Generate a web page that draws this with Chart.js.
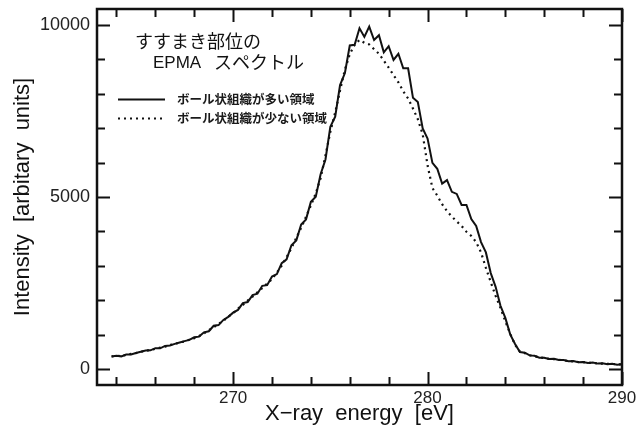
<!DOCTYPE html>
<html>
<head>
<meta charset="utf-8">
<script src="https://cdn.jsdelivr.net/npm/chart.js@4/dist/chart.umd.min.js"></script>
<style>
  html, body { margin: 0; padding: 0; background: #fff; }
  #wrap { width: 637px; height: 431px; position: relative; }
</style>
</head>
<body>
<div id="wrap"><canvas id="c"></canvas></div>
<script>
// ---- data ----
const energies = [
  263.75,264.00,264.25,264.50,264.75,265.00,265.25,265.50,265.75,266.00,
  266.25,266.50,266.75,267.00,267.25,267.50,267.75,268.00,268.25,268.50,
  268.75,269.00,269.25,269.50,269.75,270.00,270.25,270.50,270.75,271.00,
  271.25,271.50,271.75,272.00,272.25,272.50,272.75,273.00,273.25,273.50,
  273.75,274.00,274.25,274.50,274.75,275.00,275.25,275.50,275.75,276.00,
  276.25,276.50,276.75,277.00,277.25,277.50,277.75,278.00,278.25,278.50,
  278.75,279.00,279.25,279.50,279.75,280.00,280.25,280.50,280.75,281.00,
  281.25,281.50,281.75,282.00,282.25,282.50,282.75,283.00,283.25,283.50,
  283.75,284.00,284.25,284.50,284.75,285.00,285.25,285.50,285.75,286.00,
  286.25,286.50,286.75,287.00,287.25,287.50,287.75,288.00,288.25,288.50,
  288.75,289.00,289.25,289.50,289.75,290.00
];
// many-ball-structure region (solid)
const intensityMany = [
  365,390,372,425,428,470,505,540,548,610,
  605,675,688,735,775,815,850,925,945,1070,
  1100,1260,1280,1430,1520,1640,1720,1920,1950,2150,
  2190,2420,2440,2690,2760,3080,3190,3600,3740,4200,
  4350,4860,5010,5660,6090,7040,7330,8250,8600,9400,
  9420,9900,9650,9950,9560,9700,9200,9380,8980,9160,
  8740,8740,7880,7760,6990,6700,5990,5820,5390,5490,
  5150,5090,4770,4770,4360,4160,3690,3390,2790,2390,
  1840,1490,1010,730,495,480,400,388,332,333,
  293,302,266,264,230,234,203,210,181,190,
  161,170,146,158,131,142
];
// few-ball-structure region (dotted)
const intensityFew = [
  372,378,395,408,445,465,505,528,565,588,
  625,655,705,730,775,805,855,895,965,1035,
  1135,1215,1315,1405,1525,1625,1755,1865,1995,2105,
  2235,2355,2485,2615,2805,3005,3255,3515,3815,4105,
  4425,4755,5105,5545,6205,6895,7455,8095,8700,9150,
  9420,9560,9480,9430,9290,9160,8960,8760,8540,8330,
  8070,7860,7570,7260,6820,5920,5260,5040,4790,4590,
  4430,4290,4160,3990,3870,3690,3390,2940,2530,2130,
  1780,1390,1030,710,510,465,405,380,340,325,
  300,292,272,258,236,228,208,202,186,182,
  166,162,152,152,137,137
];
const seriesLabels = ['ボール状組織が多い領域', 'ボール状組織が少ない領域'];
const xTickLabels = [270, 280, 290];
const yTickLabels = [0, 5000, 10000];
const xMinorTicks = [264,266,268,270,272,274,276,278,280,282,284,286,288,290];
const yMinorTicks = [0,1000,2000,3000,4000,5000,6000,7000,8000,9000,10000];
const titleLine1 = 'すすまき部位の';
const titleLine2a = 'EPMA';
const titleLine2b = 'スペクトル';
const xTitle = 'X\u2212ray  energy  [eV]';
const yTitle = 'Intensity  [arbitary  units]';

// ---- chart ----
const LATIN = '"Liberation Sans", Arial, sans-serif';
const CJK = '"Noto Sans CJK JP", sans-serif';

const framePlugin = {
  id: 'frameAndNotes',
  afterDraw(chart) {
    const ctx = chart.ctx;
    const a = chart.chartArea;
    const xs = chart.scales.x, ys = chart.scales.y;
    ctx.save();
    ctx.strokeStyle = '#111';
    // inward ticks
    ctx.lineWidth = 2;
    ctx.beginPath();
    xMinorTicks.forEach(v => {
      const px = Math.round(xs.getPixelForValue(v)) + 0.5;
      const len = xTickLabels.includes(v) ? 13 : 8;
      ctx.moveTo(px, a.bottom); ctx.lineTo(px, a.bottom - len);
      ctx.moveTo(px, a.top); ctx.lineTo(px, a.top + len);
    });
    yMinorTicks.forEach(v => {
      const py = Math.round(ys.getPixelForValue(v)) + 0.5;
      const len = yTickLabels.includes(v) ? 13 : 8;
      ctx.moveTo(a.left, py); ctx.lineTo(a.left + len, py);
      ctx.moveTo(a.right, py); ctx.lineTo(a.right - len, py);
    });
    ctx.stroke();
    // frame
    ctx.lineWidth = 2.5;
    ctx.strokeRect(a.left, a.top, a.right - a.left, a.bottom - a.top);

    // title inside the plot
    ctx.fillStyle = '#111';
    ctx.textBaseline = 'middle';
    ctx.textAlign = 'left';
    ctx.font = '18px ' + CJK;
    ctx.fillText(titleLine1, 135, 41);
    ctx.font = '17px ' + LATIN;
    ctx.fillText(titleLine2a, 153, 63);
    ctx.font = '18px ' + CJK;
    ctx.fillText(titleLine2b, 214, 62);

    // legend
    const ds = chart.data.datasets;
    [99, 118].forEach((y, i) => {
      ctx.beginPath();
      ctx.lineWidth = ds[i].borderWidth;
      ctx.setLineDash(ds[i].borderDash || []);
      ctx.strokeStyle = ds[i].borderColor;
      ctx.moveTo(118, y + 0.5); ctx.lineTo(165, y + 0.5);
      ctx.stroke();
      ctx.setLineDash([]);
      ctx.font = 'bold 12.5px ' + CJK;
      ctx.fillStyle = '#1a1a1a';
      ctx.fillText(ds[i].label, 177, y);
    });
    ctx.restore();
  }
};

new Chart(document.getElementById('c'), {
  type: 'line',
  data: {
    datasets: [
      {
        label: seriesLabels[0],
        data: energies.map((e, i) => ({ x: e, y: intensityMany[i] })),
        borderColor: '#111',
        borderWidth: 2,
        pointRadius: 0,
        tension: 0,
        fill: false
      },
      {
        label: seriesLabels[1],
        data: energies.map((e, i) => ({ x: e, y: intensityFew[i] })),
        borderColor: '#111',
        borderWidth: 2.2,
        borderDash: [2, 4],
        pointRadius: 0,
        tension: 0,
        fill: false
      }
    ]
  },
  options: {
    animation: false,
    responsive: true,
    maintainAspectRatio: false,
    layout: { padding: { left: 0, right: 15, top: 9, bottom: 0 } },
    plugins: { legend: { display: false }, tooltip: { enabled: false } },
    scales: {
      x: {
        type: 'linear',
        min: 263,
        max: 290,
        afterBuildTicks: s => { s.ticks = xTickLabels.map(v => ({ value: v })); },
        afterFit: s => { s.height = 46; s.paddingLeft = 0; s.paddingRight = 0; },
        grid: { display: false, drawTicks: false },
        border: { display: false },
        ticks: { padding: 3, autoSkip: false, maxRotation: 0, color: '#222',
                 font: { size: 17, family: LATIN }, callback: v => String(v) },
        title: { display: true, text: xTitle, color: '#111',
                 font: { size: 22, family: LATIN }, padding: { top: 0, bottom: 4 } }
      },
      y: {
        type: 'linear',
        min: -460,
        max: 10460,
        afterBuildTicks: s => { s.ticks = yTickLabels.map(v => ({ value: v })); },
        afterFit: s => { s.width = 97; s.paddingTop = 0; s.paddingBottom = 0; },
        grid: { display: false, drawTicks: false },
        border: { display: false },
        ticks: { padding: 7, color: '#222', font: { size: 18, family: LATIN },
                 callback: v => String(v) },
        title: { display: true, text: yTitle, color: '#111',
                 font: { size: 22, family: LATIN }, padding: { top: 10, bottom: 0 } }
      }
    }
  },
  plugins: [framePlugin]
});
</script>
</body>
</html>
